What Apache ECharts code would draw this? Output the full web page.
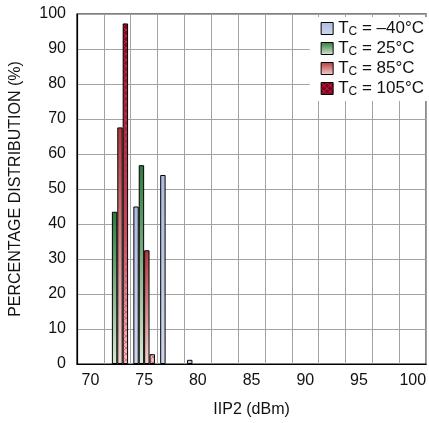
<!DOCTYPE html>
<html><head><meta charset="utf-8">
<script src="https://cdn.jsdelivr.net/npm/echarts@6/dist/echarts.min.js"></script>
<style>html,body{margin:0;padding:0;background:#fff}#c{width:429px;height:423px}</style>
</head><body><div id="c"></div>
<script>
var categories = ['70','72.5','75','77.5','80','82.5','85','87.5','90','92.5','95','97.5','100'];
var tM40 = [0, 0, 45, 54, 1.2, 0, 0, 0, 0, 0, 0, 0, 0];
var t25  = [0, 43.5, 56.8, 0, 0, 0, 0, 0, 0, 0, 0, 0, 0];
var t85  = [0, 67.6, 32.5, 0, 0, 0, 0, 0, 0, 0, 0, 0, 0];
var t105 = [0, 97.3, 2.8, 0, 0, 0, 0, 0, 0, 0, 0, 0, 0];
var names = ['-40','25','85','105'];
var legendText = ['{t|T}{s|C}{t| = \u201340\u00b0C}','{t|T}{s|C}{t| = 25\u00b0C}','{t|T}{s|C}{t| = 85\u00b0C}','{t|T}{s|C}{t| = 105\u00b0C}'];

var FONT = '"Liberation Sans Narrow", "Arial Narrow", "Liberation Sans", sans-serif';
function grad(a,b){return new echarts.graphic.LinearGradient(0,0,0,1,[{offset:0,color:a},{offset:1,color:b}]);}

// hatched fill for the 105°C series (pattern tile spanning the chart height)
var pc = document.createElement('canvas');
pc.width = 6; pc.height = 423;
var g = pc.getContext('2d');
var lg = g.createLinearGradient(0,14,0,366);
lg.addColorStop(0,'#7d001c'); lg.addColorStop(0.6,'#c0485c'); lg.addColorStop(1,'#f3c4ca');
g.fillStyle = lg; g.fillRect(0,0,6,423);
g.strokeStyle = 'rgba(225,55,85,0.6)'; g.lineWidth = 1;
for (var y=-6; y<429; y+=6){ g.beginPath(); g.moveTo(0,y); g.lineTo(6,y+6); g.moveTo(6,y); g.lineTo(0,y+6); g.stroke(); }

var fills = [grad('#aebbe0','#cfd7ef'), grad('#2e7a3c','#d8e8d6'), grad('#b5383c','#f4d2ce'), {image:pc, repeat:'repeat'}];
var datas = [tM40,t25,t85,t105];
var series = datas.map(function(d,i){
  return {name:names[i], type:'bar', data:d.map(function(v){return v===0?null:v;}), barWidth:5.4, barGap:'0%',
    itemStyle:{color:fills[i], borderColor:'#000', borderWidth:1}};
});
var chart = echarts.init(document.getElementById('c'), null, {renderer:'canvas'});
chart.setOption({
  animation:false,
  textStyle:{fontFamily:FONT},
  grid:{left:77, right:1, top:14, bottom:57, show:true, borderColor:'#000', borderWidth:1.2, backgroundColor:'transparent'},
  legend:{orient:'vertical', right:1, top:17, backgroundColor:'#fff', padding:[3,4,3,11], itemGap:2, itemWidth:12, itemHeight:12, icon:'rect',
    data:names, formatter:function(n){return legendText[names.indexOf(n)];},
    itemStyle:{borderColor:'#000', borderWidth:1},
    textStyle:{fontFamily:FONT, color:'#111', rich:{t:{fontSize:17, fontFamily:FONT, color:'#111'}, s:{fontSize:12, fontFamily:FONT, color:'#111', padding:[7,0,0,0]}}}},
  xAxis:{type:'category', data:categories, boundaryGap:true,
    name:'IIP2 (dBm)', nameLocation:'middle', nameGap:38, nameTextStyle:{fontSize:16, color:'#111', fontFamily:FONT},
    axisLine:{lineStyle:{color:'#000', width:1.2}}, axisTick:{show:false, interval:0},
    axisLabel:{interval:1, fontSize:16, color:'#111', margin:9, fontFamily:FONT},
    splitLine:{show:true, interval:0, lineStyle:{color:'#a3a3a3', width:1}}},
  yAxis:{type:'value', min:0, max:100, interval:10,
    name:'PERCENTAGE DISTRIBUTION (%)', nameLocation:'middle', nameGap:53, nameTextStyle:{fontSize:16, color:'#111', fontFamily:FONT},
    axisLine:{show:true, lineStyle:{color:'#000', width:1.2}}, axisTick:{show:false},
    axisLabel:{fontSize:16, color:'#111', margin:11, fontFamily:FONT},
    splitLine:{show:true, lineStyle:{color:'#a3a3a3', width:1}}},
  series:series
});
</script></body></html>
